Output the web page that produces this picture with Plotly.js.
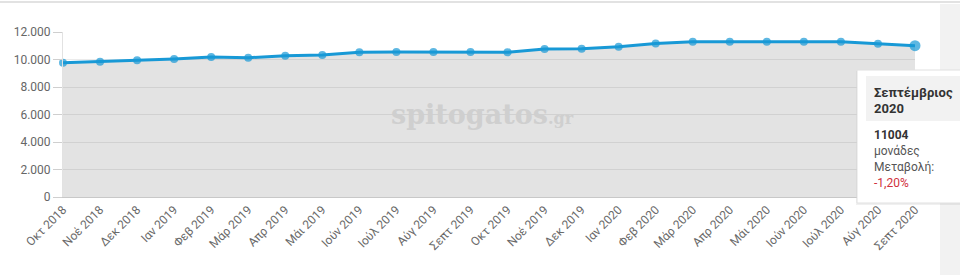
<!DOCTYPE html>
<html>
<head>
<meta charset="utf-8">
<script src="https://cdn.plot.ly/plotly-3.0.1.min.js"></script>
<style>
html,body{margin:0;padding:0;background:#fff;}
#chart{width:960px;height:275px;}
</style>
</head>
<body>
<div id="chart"></div>
<script>
const months = ["Οκτ 2018","Νοέ 2018","Δεκ 2018","Ιαν 2019","Φεβ 2019","Μάρ 2019","Απρ 2019","Μάι 2019","Ιούν 2019","Ιούλ 2019","Αύγ 2019","Σεπτ 2019","Οκτ 2019","Νοέ 2019","Δεκ 2019","Ιαν 2020","Φεβ 2020","Μάρ 2020","Απρ 2020","Μάι 2020","Ιούν 2020","Ιούλ 2020","Αύγ 2020","Σεπτ 2020"];
const values = [9770, 9840, 9940, 10040, 10180, 10130, 10280, 10320, 10520, 10540, 10540, 10540, 10520, 10760, 10790, 10920, 11170, 11290, 11290, 11290, 11290, 11290, 11140, 11004];
const yTicks = [0, 2000, 4000, 6000, 8000, 10000, 12000];
const tooltipTitle = ["Σεπτέμβριος", "2020"];
const tooltipValue = "11004";
const tooltipUnit = "μονάδες";
const tooltipChangeLabel = "Μεταβολή:";
const tooltipChange = "-1,20%";
const watermark = "spitogatos";
const watermarkSuffix = ".gr";

const W = 960, H = 275;
const mL = 63, mR = 45, mT = 32, mB = 78;
const pw = W - mL - mR, ph = H - mT - mB;
const px = x => (x - mL) / pw;
const py = y => (H - mB - y) / ph;

const lineColor = "#1899d6";
const nLast = values.length - 1;

const traces = [
  {
    x: months, y: values, type: "scatter", mode: "lines+markers",
    fill: "tozeroy", fillcolor: "rgba(0,0,0,0.11)",
    line: {color: lineColor, width: 3},
    marker: {color: lineColor, size: months.map((m, i) => i === nLast ? 11 : 8), line: {width: 0}},
    cliponaxis: false, hoverinfo: "skip"
  }
];

const shapes = [
  {type: "line", xref: "paper", yref: "paper", x0: px(0), x1: px(W), y0: py(2), y1: py(2), line: {color: "#e2e2e2", width: 2}},
  {type: "rect", xref: "paper", yref: "paper", x0: px(940), x1: px(W), y0: py(4), y1: py(H), fillcolor: "#f2f2f2", line: {width: 0}},
  {type: "rect", xref: "paper", yref: "paper", x0: px(856), x1: px(W + 5), y0: py(71), y1: py(205), fillcolor: "rgba(0,0,0,0.06)", line: {width: 0}},
  {type: "rect", xref: "paper", yref: "paper", x0: px(857), x1: px(W + 5), y0: py(70), y1: py(203), fillcolor: "#ffffff", line: {color: "#e0e0e0", width: 1}},
  {type: "rect", xref: "paper", yref: "paper", x0: px(866), x1: px(W + 5), y0: py(76), y1: py(121), fillcolor: "#f2f2f2", line: {width: 0}}
];

const tipFont = "Roboto, 'Noto Sans', sans-serif";
function tip(text, y, opts) {
  return Object.assign({
    xref: "paper", yref: "paper", x: px(872), y: py(y), xanchor: "left", yanchor: "middle",
    showarrow: false, text: text, font: {family: tipFont, size: 12, color: "#555"}
  }, opts || {});
}

const annotations = [
  {xref: "paper", yref: "paper", x: px(389), y: py(114), xanchor: "left", yanchor: "middle", showarrow: false,
   text: "<b>" + watermark + "</b><span style='font-size:16px'><b>" + watermarkSuffix + "</b></span>",
   font: {family: "'DejaVu Serif', serif", size: 27, color: "#cfcfcf"}},
  tip("<b>" + tooltipTitle[0] + "</b>", 92, {font: {family: tipFont, size: 13, color: "#333"}}),
  tip("<b>" + tooltipTitle[1] + "</b>", 108, {font: {family: tipFont, size: 13, color: "#333"}}),
  tip("<b>" + tooltipValue + "</b>", 135, {font: {family: tipFont, size: 12, color: "#333"}}),
  tip(tooltipUnit, 151),
  tip(tooltipChangeLabel, 167),
  tip(tooltipChange, 183, {font: {family: tipFont, size: 12, color: "#d0313c"}})
];

const layout = {
  width: W, height: H,
  margin: {l: mL, r: mR, t: mT, b: mB, pad: 0},
  paper_bgcolor: "#ffffff", plot_bgcolor: "#ffffff",
  separators: ",.",
  showlegend: false,
  hovermode: false,
  font: {family: "Roboto, sans-serif", size: 12, color: "#666"},
  xaxis: {
    type: "category", range: [0, nLast], tickangle: -45,
    showgrid: false, zeroline: false,
    showline: true, linecolor: "#c8c8c8", linewidth: 1, mirror: false,
    ticks: "", tickfont: {family: "Roboto, sans-serif", size: 12, color: "#6a6a6a"},
    fixedrange: true
  },
  yaxis: {
    range: [0, 12000], tickvals: yTicks, tickformat: ",d",
    showgrid: true, gridcolor: "#ebebeb", gridwidth: 1,
    zeroline: false, showline: true, linecolor: "#e2e2e2", linewidth: 1,
    ticks: "outside", ticklen: 9, tickcolor: "#cfcfcf", tickwidth: 1,
    tickfont: {family: "Roboto, sans-serif", size: 12, color: "#666"},
    fixedrange: true
  },
  shapes: shapes,
  annotations: annotations
};

Plotly.newPlot("chart", traces, layout, {displayModeBar: false, staticPlot: true});
</script>
</body>
</html>
